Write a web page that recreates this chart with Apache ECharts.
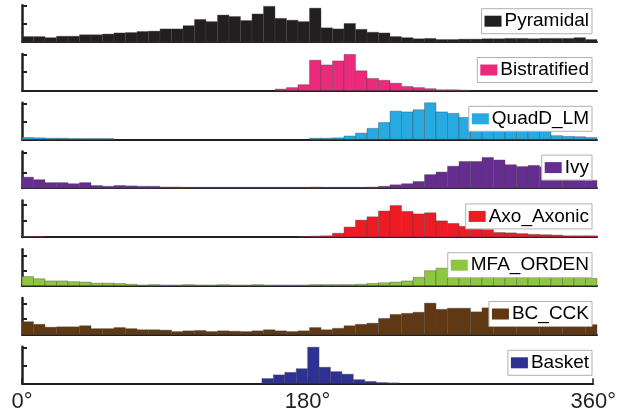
<!DOCTYPE html>
<html><head><meta charset="utf-8">
<script src="https://cdn.jsdelivr.net/npm/echarts@6/dist/echarts.min.js"></script>
<style>html,body{margin:0;padding:0;background:#fff}#c{width:619px;height:418px}</style>
</head><body><div id="c"></div>
<script>
// ---- data (bar heights relative to each panel's axis height) ----
const seriesNames = ['Pyramidal','Bistratified','QuadD_LM','Ivy','Axo_Axonic','MFA_ORDEN','BC_CCK','Basket'];
const seriesColors = ['#231F20','#EC2A7B','#27AAE1','#662D91','#ED1C24','#8DC63F','#603913','#2E3192'];

const pyramidal = [0.14,0.14,0.11,0.15,0.15,0.19,0.19,0.21,0.24,0.25,0.28,0.29,0.35,0.35,0.44,0.61,0.55,0.73,0.69,0.58,0.76,0.97,0.64,0.59,0.55,0.92,0.38,0.35,0.50,0.34,0.26,0.24,0.14,0.11,0.08,0.09,0.06,0.06,0.07,0.07,0.08,0.08,0.09,0.09,0.08,0.09,0.09,0.09,0.11,0.06];
const bistratified = [0,0,0,0,0,0,0,0,0,0,0,0,0,0,0,0,0,0,0,0,0,0,0.04,0.08,0.16,0.83,0.70,0.81,0.99,0.54,0.33,0.28,0.20,0.11,0.08,0.05,0.02,0.02,0.01,0,0,0,0,0,0,0,0,0,0,0];
const quadD = [0.05,0.04,0.03,0.03,0.02,0.02,0.02,0.02,0,0,0,0,0,0,0,0,0,0,0,0,0,0,0,0,0,0.03,0.03,0.04,0.09,0.17,0.30,0.46,0.77,0.75,0.81,1.00,0.75,0.71,0.60,0.55,0.45,0.40,0.35,0.30,0.26,0.21,0.10,0.08,0.07,0.05];
const ivy = [0.30,0.23,0.15,0.15,0.12,0.15,0.07,0.05,0.07,0.06,0.05,0.05,0.03,0.03,0.02,0.02,0.02,0.02,0.02,0.02,0.02,0.02,0.02,0.02,0.02,0.03,0.02,0.02,0.02,0.02,0.03,0.05,0.09,0.12,0.18,0.37,0.44,0.60,0.73,0.73,0.84,0.77,0.64,0.59,0.62,0.58,0.55,0.50,0.40,0.21];
const axo = [0.01,0.01,0,0,0,0,0,0,0,0,0,0,0,0,0,0,0,0,0,0,0,0,0,0,0.01,0.02,0.03,0.10,0.27,0.46,0.55,0.71,0.86,0.70,0.63,0.66,0.44,0.37,0.29,0.24,0.20,0.12,0.11,0.09,0.07,0.06,0.05,0.03,0.03,0.03];
const mfa = [0.25,0.19,0.13,0.13,0.11,0.10,0.07,0.07,0.06,0.04,0.02,0.03,0.02,0.02,0.03,0.02,0.02,0.03,0.02,0.02,0.03,0.02,0.02,0.02,0.02,0.03,0.03,0.03,0.03,0.04,0.06,0.08,0.10,0.13,0.23,0.41,0.48,0.50,0.48,0.46,0.45,0.44,0.42,0.40,0.38,0.36,0.34,0.30,0.28,0.20];
const bcCck = [0.35,0.28,0.20,0.21,0.21,0.24,0.16,0.16,0.19,0.16,0.13,0.13,0.12,0.08,0.10,0.11,0.08,0.10,0.09,0.08,0.10,0.13,0.10,0.08,0.10,0.19,0.13,0.17,0.24,0.28,0.31,0.44,0.55,0.58,0.61,0.86,0.69,0.72,0.72,0.62,0.73,0.70,0.70,0.68,0.68,0.66,0.66,0.62,0.60,0.27];
const basket = [0,0,0,0,0,0,0,0,0,0,0,0,0,0,0,0,0,0,0,0,0,0.13,0.23,0.30,0.40,0.99,0.44,0.32,0.25,0.10,0.05,0.02,0.01,0,0,0,0,0,0,0,0,0,0,0,0,0,0,0,0,0];

const seriesValues = [pyramidal, bistratified, quadD, ivy, axo, mfa, bcCck, basket];

const xTickValues = [0, 180, 360];
const xTickLabels = ['0°', '180°', '360°'];
// y tick positions per panel (fraction of panel axis range)
const yTickLevels = [[0,0.50,0.98],[0,0.52,0.97],[0,0.49,0.98],[0,0.43,0.96],[0,0.44,0.88],[0,0.42,0.81],[0,0.42,0.83],[0,0.47,0.97]];

// ---- layout ----
const binCount = 50, xMax = 360, binW = xMax / binCount;
const firstBase = 41.7, step = 48.8, panelH = 36.5;
const axisColor = '#231F20';
const font = '"Liberation Sans", Arial, sans-serif';

const grids = [], xAxes = [], yAxes = [], series = [], legends = [];
seriesNames.forEach((name, i) => {
  const base = firstBase + step * i;
  const last = i === seriesNames.length - 1;
  grids.push({ left: 22, right: 22, top: base - panelH, height: panelH });
  xAxes.push({
    type: 'value', gridIndex: i, min: 0, max: xMax, interval: 180,
    axisLine: { show: true, lineStyle: { color: axisColor, width: 2 } },
    axisTick: { show: last, inside: true, length: 5, lineStyle: { color: axisColor, width: 1.5 } },
    axisLabel: { show: last, fontSize: 22, fontFamily: font, color: axisColor, margin: 8,
      showMinLabel: true, showMaxLabel: true,
      formatter: v => xTickLabels[xTickValues.indexOf(v)] || '' },
    splitLine: { show: false }
  });
  yAxes.push({
    type: 'value', gridIndex: i, min: 0, max: 1,
    axisLine: { show: true, lineStyle: { color: axisColor, width: 2.5 } },
    axisTick: { show: true, inside: true, length: 5, customValues: yTickLevels[i], lineStyle: { color: axisColor, width: 2 } },
    axisLabel: { show: false },
    splitLine: { show: false }
  });
  const color = seriesColors[i];
  series.push({
    type: 'custom', name, xAxisIndex: i, yAxisIndex: i,
    itemStyle: { color },
    encode: { x: [0, 1], y: 2 },
    data: seriesValues[i].map((v, k) => [k * binW, (k + 1) * binW, v]),
    renderItem: (params, api) => {
      const v = api.value(2);
      if (!(v > 0)) return { type: 'group', children: [] };
      const p0 = api.coord([api.value(0), 0]);
      const p1 = api.coord([api.value(1), v]);
      return { type: 'rect',
        shape: { x: p0[0], y: p1[1], width: p1[0] - p0[0], height: p0[1] - p1[1] },
        style: { fill: color, stroke: 'rgba(70,70,70,0.55)', lineWidth: 0.7 } };
    }
  });
  legends.push({
    data: [name], right: 27, top: base - 33, icon: 'rect', itemWidth: 17, itemHeight: 11,
    padding: [3, 3, 3, 3], borderColor: '#b0b0b0', borderWidth: 1, backgroundColor: '#fff',
    selectedMode: false, z: 10,
    itemStyle: { borderWidth: 0 },
    textStyle: { fontSize: 19, fontFamily: font, color: '#000', padding: [0, 0, 0, -2] }
  });
});

const chart = echarts.init(document.getElementById('c'), null, { renderer: 'canvas' });
chart.setOption({
  animation: false, backgroundColor: '#fff',
  grid: grids, xAxis: xAxes, yAxis: yAxes, series, legend: legends
});
</script></body></html>
